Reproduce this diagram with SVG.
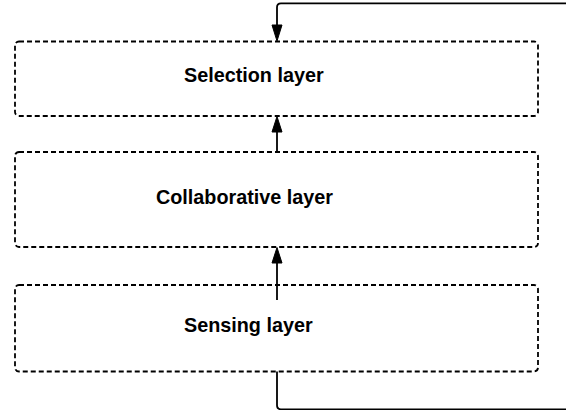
<svg xmlns="http://www.w3.org/2000/svg" width="566" height="410" viewBox="0 0 566 410">
<style>
.box{fill:#fff;stroke:#000;stroke-width:1.8;stroke-dasharray:5 3}
.lbl{font-family:"Liberation Sans",Arial,sans-serif;font-weight:bold;font-size:19.8px;fill:#000}
.edge{fill:none;stroke:#000;stroke-width:1.8}
.head{fill:#000;stroke:#000;stroke-width:1}
</style>
<rect width="566" height="410" fill="#fff"/>
<g id="node-selection">
<rect class="box" x="15" y="41.5" width="523" height="74.5" rx="4"/>
<text class="lbl" x="184" y="82">Selection layer</text>
</g>
<g id="node-collaborative">
<rect class="box" x="15" y="152" width="523" height="95" rx="4"/>
<text class="lbl" x="156" y="204">Collaborative layer</text>
</g>
<g id="node-sensing">
<rect class="box" x="15" y="285" width="523" height="86.5" rx="4"/>
<text class="lbl" x="184" y="332">Sensing layer</text>
</g>
<g id="connectors">
<path class="edge" d="M566 3.3 H281 Q277 3.3 277 7.3 V26"/>
<polygon class="head" points="277,41 272,25 282,25"/>
<path class="edge" d="M277 152 V132"/>
<polygon class="head" points="277,116.5 272,132 282,132"/>
<path class="edge" d="M277 300 V263"/>
<polygon class="head" points="277,247.5 272,263 282,263"/>
<path class="edge" d="M277 371.5 V405.3 Q277 409.3 281 409.3 H566"/>
</g>
</svg>
